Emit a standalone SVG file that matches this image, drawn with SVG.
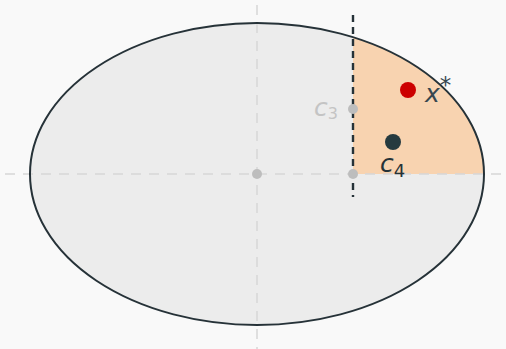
<svg xmlns="http://www.w3.org/2000/svg" width="506" height="349" viewBox="0 0 506 349">
<style>
.axis{stroke:#d6d6d6;stroke-width:1.5;stroke-dasharray:10 8;fill:none}
.lbl{font-family:"DejaVu Sans",sans-serif;font-style:italic;font-size:25px}
.sub{font-family:"DejaVu Sans",sans-serif;font-style:normal}
</style>
<rect width="506" height="349" fill="#f9f9f9"/>
<g id="ellipse">
<ellipse cx="257" cy="174" rx="227" ry="151" fill="#ececec"/>
<path d="M353,174 L353,37.2 A227,151 0 0 1 484,174 Z" fill="#f8d3b0"/>
</g>
<g id="axes">
<line class="axis" x1="5" y1="174" x2="505" y2="174"/>
<line class="axis" x1="257" y1="5" x2="257" y2="349"/>
</g>
<g id="ellipse-outline">
<ellipse cx="257" cy="174" rx="227" ry="151" fill="none" stroke="#263238" stroke-width="2"/>
</g>
<g id="connectors">
<line x1="353" y1="15" x2="353" y2="197" stroke="#263238" stroke-width="2.4" stroke-dasharray="7 5"/>
</g>
<g id="center"><circle cx="257" cy="174" r="5" fill="#bdbdbd"/></g>
<g id="base"><circle cx="353" cy="174" r="5" fill="#bdbdbd"/></g>
<g id="c3">
<circle cx="353" cy="109" r="5" fill="#bdbdbd"/>
<text x="314" y="116" class="lbl" fill="#c4c4c4">c<tspan class="sub" dy="3" font-size="16">3</tspan></text>
</g>
<g id="c4">
<circle cx="393" cy="142" r="8" fill="#263a3f"/>
<text x="380" y="172" class="lbl" fill="#263238">c<tspan class="sub" dy="5" font-size="18">4</tspan></text>
</g>
<g id="xstar">
<circle cx="408" cy="90" r="8" fill="#cc0000"/>
<text x="425" y="102" class="lbl" fill="#37474f">x<tspan class="sub" dy="-9" font-size="23">*</tspan></text>
</g>
</svg>
